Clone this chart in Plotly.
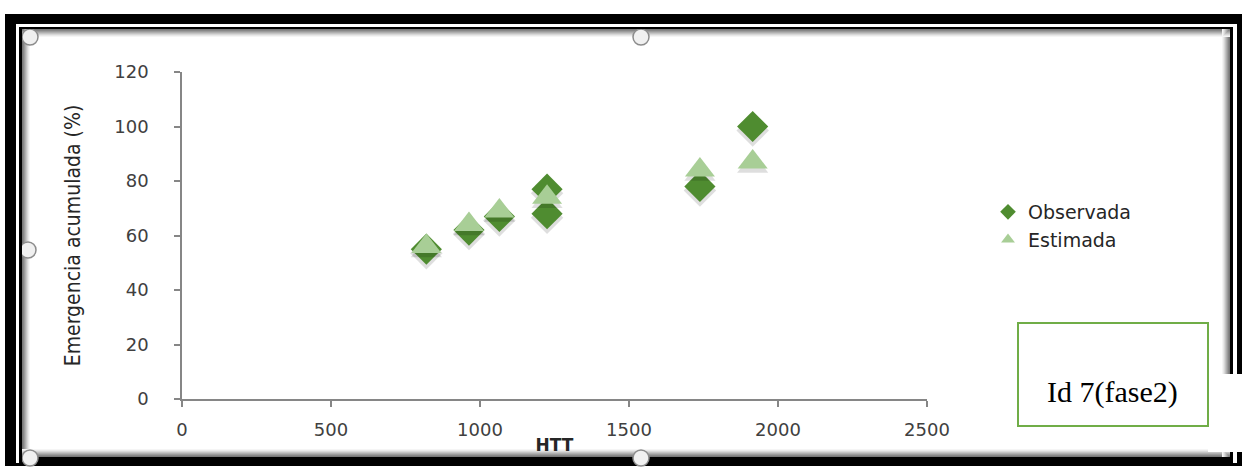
import plotly.graph_objects as go

# Heat-time (HTT) values and cumulative emergence (%)
htt_obs = [820, 963, 1065, 1225, 1225, 1738, 1915]
emerg_obs = [55, 62, 67, 68, 77, 78, 100]
htt_est = [820, 963, 1065, 1225, 1738, 1915]
emerg_est = [56, 64, 69, 74, 84, 87]

x_ticks = [0, 500, 1000, 1500, 2000, 2500]
y_ticks = [0, 20, 40, 60, 80, 100, 120]

W, H = 1242, 473
L, R, T, B = 182, 927, 72, 399  # plot-area pixel box
X_MAX, Y_MAX = 2500, 120


def px(x):
    return (x - L) / (R - L)


def py(y):
    return (B - y) / (B - T)


def rect(x0, y0, x1, y1, fill, line=None, lw=0):
    return dict(type="rect", xref="paper", yref="paper",
                x0=px(x0), x1=px(x1), y0=py(y1), y1=py(y0),
                fillcolor=fill, line=dict(color=line or fill, width=lw),
                layer="below")


shapes = []
# outer frame
shapes.append(rect(5, 14, 1260, 466, "black"))
shapes.append(rect(16, 24, 1237, 463, "white"))
shapes.append(rect(19, 27, 1233, 466, "black"))
shapes.append(rect(22, 29, 1230, 457, "white"))
# soft grey bevel on the inner chart border
greys = [120, 135, 155, 175, 195, 215, 232, 245]
for i, g in enumerate(greys):
    c = f"rgb({g},{g},{g})"
    shapes.append(rect(22, 29 + i, 1230, 30 + i, c))          # top
    shapes.append(rect(22 + i, 29, 23 + i, 457, c))          # left
    shapes.append(rect(1229 - i, 29, 1230 - i, 457, c))      # right
    shapes.append(rect(22, 456 - i, 1230, 457 - i, c))       # bottom
# selection handles
for cx, cy in [(30, 37), (641, 37), (28, 250), (30, 458), (641, 458)]:
    shapes.append(dict(type="circle", xref="paper", yref="paper",
                       x0=px(cx - 8), x1=px(cx + 8), y0=py(cy + 8), y1=py(cy - 8),
                       fillcolor="rgb(240,240,240)",
                       line=dict(color="rgb(140,140,140)", width=1.5), layer="below"))
shapes.append(rect(19, 27, 22, 466, "black"))
shapes.append(rect(19, 27, 1233, 29, "black"))
# label box and its white backing
shapes.append(dict(type="rect", xref="paper", yref="paper",
                   x0=px(1208), x1=px(1250), y0=py(452), y1=py(374),
                   fillcolor="white", line=dict(width=0), layer="above"))
shapes.append(dict(type="rect", xref="paper", yref="paper",
                   x0=px(1018), x1=px(1208), y0=py(426), y1=py(323),
                   fillcolor="white", line=dict(color="rgb(112,173,71)", width=2),
                   layer="above"))

dark_green = "rgb(79,140,48)"
light_green = "rgb(168,206,150)"

# pixel offset for the drop shadow, converted to data units
shadow_dy = 4 * Y_MAX / (B - T)

fig = go.Figure()
fig.add_trace(go.Scatter(
    x=htt_obs, y=[v - shadow_dy for v in emerg_obs], mode="markers",
    marker=dict(symbol="diamond", size=25, color="rgba(0,0,0,0.13)", line=dict(width=0)),
    showlegend=False, hoverinfo="skip"))
fig.add_trace(go.Scatter(
    x=htt_obs, y=emerg_obs, mode="markers", name="Observada", legendgroup="o",
    marker=dict(symbol="diamond", size=24, color=dark_green, line=dict(width=0))))
fig.add_trace(go.Scatter(
    x=htt_est, y=[v - shadow_dy for v in emerg_est], mode="markers",
    marker=dict(symbol="triangle-up", size=27, color="rgba(0,0,0,0.13)", line=dict(width=0)),
    showlegend=False, hoverinfo="skip"))
fig.add_trace(go.Scatter(
    x=htt_est, y=emerg_est, mode="markers", name="Estimada", legendgroup="e",
    marker=dict(symbol="triangle-up", size=26, color=light_green,
                line=dict(width=0))))

axis_col = "rgb(134,134,134)"
tick_font = dict(family="DejaVu Sans", size=18, color="rgb(64,64,64)")

fig.update_layout(
    width=W, height=H,
    margin=dict(l=L, r=W - R, t=T, b=H - B, pad=0),
    paper_bgcolor="white", plot_bgcolor="white",
    showlegend=True,
    legend=dict(x=px(988), y=py(193), xanchor="left", yanchor="top",
                font=dict(family="DejaVu Sans", size=19, color="rgb(38,38,38)"),
                tracegroupgap=0, itemsizing="constant", bgcolor="rgba(0,0,0,0)"),
    shapes=shapes,
    annotations=[dict(text="Id 7(fase2)", xref="paper", yref="paper",
                      x=px(1112), y=py(392), xanchor="center", yanchor="middle",
                      showarrow=False,
                      font=dict(family="Liberation Serif", size=30, color="black"))],
    xaxis=dict(range=[0, X_MAX], tickvals=x_ticks, ticktext=[str(v) for v in x_ticks],
               showgrid=False, zeroline=False, showline=True, linecolor=axis_col,
               linewidth=1.5, ticks="outside", ticklen=6, tickcolor=axis_col,
               tickwidth=1.5, tickfont=tick_font, ticklabelstandoff=8,
               title=dict(text="<b>HTT</b>", standoff=0,
                          font=dict(family="DejaVu Sans", size=17, color="rgb(38,38,38)"))),
    yaxis=dict(range=[0, Y_MAX], tickvals=y_ticks, ticktext=[str(v) for v in y_ticks],
               showgrid=False, zeroline=False, showline=True, linecolor=axis_col,
               linewidth=1.5, ticks="outside", ticklen=6, tickcolor=axis_col,
               tickwidth=1.5, tickfont=tick_font, ticklabelstandoff=22,
               title=dict(text="Emergencia acumulada (%)", standoff=28,
                          font=dict(family="DejaVu Sans Condensed, Liberation Sans Narrow, sans-serif",
                                    size=21, color="rgb(38,38,38)"))),
)

fig.write_html("out.html")
